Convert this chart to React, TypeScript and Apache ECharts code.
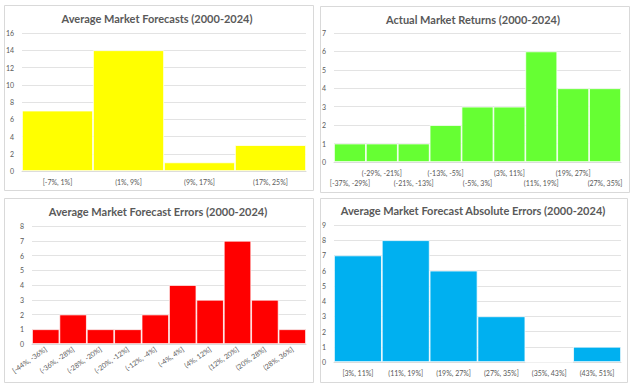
import React, { useEffect, useRef } from "react";
import * as echarts from "echarts";

const forecastBins = ["[-7%, 1%]", "(1%, 9%]", "(9%, 17%]", "(17%, 25%]"];
const forecastCounts = [7, 14, 1, 3];

const returnBins = ["[-37%, -29%]", "(-29%, -21%]", "(-21%, -13%]", "(-13%, -5%]", "(-5%, 3%]", "(3%, 11%]", "(11%, 19%]", "(19%, 27%]", "(27%, 35%]"];
const returnCounts = [1, 1, 1, 2, 3, 3, 6, 4, 4];

const errorBins = ["[-44%, -36%]", "(-36%, -28%]", "(-28%, -20%]", "(-20%, -12%]", "(-12%, -4%]", "(-4%, 4%]", "(4%, 12%]", "(12%, 20%]", "(20%, 28%]", "(28%, 36%]"];
const errorCounts = [1, 2, 1, 1, 2, 4, 3, 7, 3, 1];

const absBins = ["[3%, 11%]", "(11%, 19%]", "(19%, 27%]", "(27%, 35%]", "(35%, 43%]", "(43%, 51%]"];
const absCounts = [7, 8, 6, 3, 0, 1];

const titles = [
  "Average Market Forecasts (2000-2024)",
  "Actual Market Returns (2000-2024)",
  "Average Market Forecast Errors (2000-2024)",
  "Average Market Forecast Absolute Errors (2000-2024)",
];

const FONT = "Lato, 'Open Sans', sans-serif";
const LABEL_COLOR = "#595959";
const GRID_COLOR = "#D9D9D9";

export default function App() {
  const ref = useRef<HTMLDivElement>(null);
  useEffect(() => {
    if (!ref.current) return;
    const chart = echarts.init(ref.current, null, { renderer: "svg" });
    const grids = [
      { left: 22, top: 33, width: 284, height: 138 },
      { left: 334, top: 33, width: 287, height: 129 },
      { left: 32, top: 226, width: 274, height: 118 },
      { left: 334, top: 225, width: 287, height: 137 },
    ];
    const cats = [forecastBins, returnBins, errorBins, absBins];
    const vals = [forecastCounts, returnCounts, errorCounts, absCounts];
    const colors = ["#FFFF00", "#66FF33", "#FF0000", "#00B0F0"];
    const maxes = [16, 7, 8, 9];
    const intervals = [2, 1, 1, 1];
    const panels = [
      { x: 4.5, y: 5.5, w: 309, h: 185 },
      { x: 320.5, y: 6.5, w: 309, h: 186 },
      { x: 4.5, y: 198.5, w: 309, h: 184 },
      { x: 320.5, y: 198.5, w: 307, h: 184 },
    ];
    const titlePos = [
      { x: 157, y: 18 },
      { x: 473, y: 19 },
      { x: 158, y: 211 },
      { x: 473, y: 210 },
    ];
    const option: any = {
      animation: false,
      backgroundColor: "#ffffff",
      grid: grids.map((g) => ({ ...g, containLabel: false })),
      xAxis: cats.map((c, i) => ({
        type: "category",
        gridIndex: i,
        data: c,
        boundaryGap: true,
        axisTick: { show: false },
        axisLine: { show: true, lineStyle: { color: GRID_COLOR, width: 1 } },
        axisLabel: {
          interval: 0,
          color: LABEL_COLOR,
          fontFamily: FONT,
          fontSize: 7,
          margin: i === 2 ? 4 : 6,
          rotate: i === 2 ? 35 : 0,
          lineHeight: 10,
          formatter:
            i === 1
              ? (v: string, idx: number) => (idx % 2 === 0 ? "\n" + v : v)
              : undefined,
        },
      })),
      yAxis: maxes.map((m, i) => ({
        type: "value",
        gridIndex: i,
        min: 0,
        max: m,
        interval: intervals[i],
        axisLine: { show: false },
        axisTick: { show: false },
        splitLine: { lineStyle: { color: GRID_COLOR, width: 0.75 } },
        axisLabel: { color: LABEL_COLOR, fontFamily: FONT, fontSize: 7, margin: 8 },
      })),
      series: vals.map((v, i) => ({
        type: "bar",
        xAxisIndex: i,
        yAxisIndex: i,
        data: v,
        barCategoryGap: "0%",
        itemStyle: { color: colors[i], borderColor: "#ffffff", borderWidth: 0.75 },
      })),
      graphic: [
        ...panels.map((p) => ({
          type: "rect",
          shape: { x: p.x, y: p.y, width: p.w, height: p.h },
          style: { fill: "none", stroke: GRID_COLOR, lineWidth: 1 },
          silent: true,
        })),
        ...titles.map((t, i) => ({
          type: "text",
          x: titlePos[i].x,
          y: titlePos[i].y,
          style: {
            text: t,
            fill: "#595959",
            font: `bold 11px ${FONT}`,
            textAlign: "center",
            textVerticalAlign: "middle",
          },
        })),
      ],
    };
    chart.setOption(option);
    return () => chart.dispose();
  }, []);
  return (
    <div
      ref={ref}
      style={{ position: "fixed", left: 0, top: 0, width: 635, height: 388, background: "#fff" }}
    />
  );
}
